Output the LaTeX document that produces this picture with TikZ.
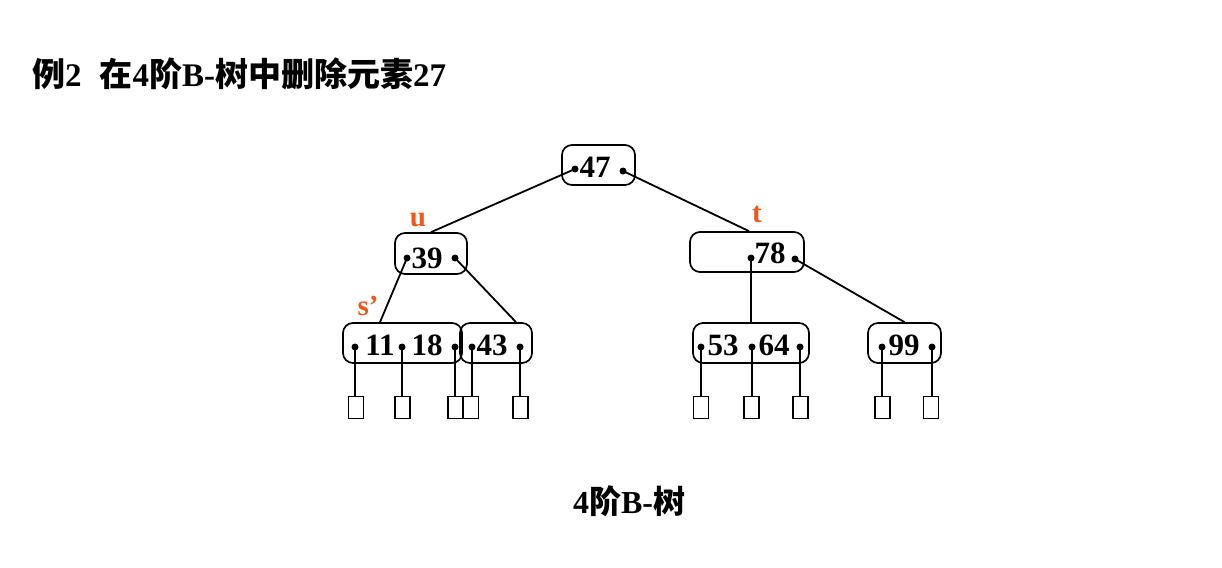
\documentclass[tikz,border=0pt]{standalone}
\usepackage{fontspec}
\setmainfont{Liberation Serif}
\newfontfamily\cjk{Noto Sans CJK SC}
\definecolor{lblorange}{RGB}{238,88,28}
\begin{document}
\begin{tikzpicture}[x=1pt,y=-1pt,
  bbox/.style={draw=black, line width=1.7pt, rounded corners=10pt},
  num/.style={inner sep=0pt, anchor=base, font=\fontsize{31}{36}\selectfont\bfseries},
  ptr/.style={circle, fill=black, inner sep=0pt, minimum size=7pt},
  leafbox/.style={draw=black, line width=1.6pt, minimum width=15pt, minimum height=22pt, inner sep=0pt},
  lbl/.style={inner sep=0pt, text=lblorange, font=\fontsize{29}{34}\selectfont\bfseries},
  edge/.style={line width=1.8pt}]
\useasboundingbox[fill=white] (0,0) rectangle (1222,567);

% title
\node[anchor=base west, inner sep=0pt, font=\fontsize{33}{38}\selectfont\bfseries] (title) at (32,87)
  {{\cjk 例}2\hspace{18pt}{\cjk 在}4{\cjk 阶}B-{\cjk 树中删除元素}27};

% boxes
\node[bbox, minimum width=73pt, minimum height=40pt] (b47) at (598.5,165) {};
\node[bbox, minimum width=72pt, minimum height=41pt] (b39) at (431,253.5) {};
\node[bbox, minimum width=114pt, minimum height=40pt] (b78) at (747,252) {};
\node[bbox, minimum width=119pt, minimum height=40pt] (b1118) at (402.5,343) {};
\node[bbox, minimum width=72pt, minimum height=40pt] (b43) at (496,343) {};
\node[bbox, minimum width=116pt, minimum height=40pt] (b5364) at (751,343) {};
\node[bbox, minimum width=73pt, minimum height=40pt] (b99) at (904.5,343) {};

% numbers
\node[num] (t47) at (595,177) {47};
\node[num] (t39) at (427,268) {39};
\node[num] (t78) at (770,263) {78};
\node[num] (t11) at (380,355) {11};
\node[num] (t18) at (427,355) {18};
\node[num] (t43) at (492,355) {43};
\node[num] (t53) at (723,355) {53};
\node[num] (t64) at (774,355) {64};
\node[num] (t99) at (904,355) {99};

% pointer dots
\node[ptr] (p47a) at (575,169) {};
\node[ptr] (p47b) at (623,171) {};
\node[ptr] (p39a) at (407,258) {};
\node[ptr] (p39b) at (455,258) {};
\node[ptr] (p78a) at (751,258) {};
\node[ptr] (p78b) at (795,259) {};
\node[ptr] (p11a) at (355,347) {};
\node[ptr] (p11b) at (402,347) {};
\node[ptr] (p11c) at (455,347) {};
\node[ptr] (p43a) at (472,347) {};
\node[ptr] (p43b) at (520,347) {};
\node[ptr] (p53a) at (701,347) {};
\node[ptr] (p53b) at (752,347) {};
\node[ptr] (p53c) at (800,347) {};
\node[ptr] (p99a) at (882,347) {};
\node[ptr] (p99b) at (932,347) {};

% leaves
\node[leafbox] (l1) at (356,407.5) {};
\node[leafbox] (l2) at (402.5,407.5) {};
\node[leafbox] (l3) at (455.5,407.5) {};
\node[leafbox] (l4) at (471,407.5) {};
\node[leafbox] (l5) at (520.5,407.5) {};
\node[leafbox] (l6) at (701,407.5) {};
\node[leafbox] (l7) at (751.5,407.5) {};
\node[leafbox] (l8) at (800.5,407.5) {};
\node[leafbox] (l9) at (882.5,407.5) {};
\node[leafbox] (l10) at (931,407.5) {};

% labels
\node[lbl] (lu) at (418,220) {u};
\node[lbl] (lt) at (757,214) {t};
\node[lbl] (ls) at (368,306) {s’};

% connectors
\draw[edge] (p47a.center) -- (b39.north);
\draw[edge] (p47b.center) -- ([xshift=2pt]b78.north);
\draw[edge] (p39a.center) -- ([xshift=-22.5pt]b1118.north);
\draw[edge] (p39b.center) -- ([xshift=20pt]b43.north);
\draw[edge] (p78a.center) -- (b5364.north -| p78a);
\draw[edge] (p78b.center) -- (b99.north);
\foreach \p/\l in {p11a/l1,p11b/l2,p11c/l3,p43a/l4,p43b/l5,p53a/l6,p53b/l7,p53c/l8,p99a/l9,p99b/l10}
  \draw[edge] (\p.center) -- (\l.north -| \p);

% caption
\node[anchor=base, inner sep=0pt, font=\fontsize{32}{38}\selectfont\bfseries] (cap) at (629,513)
  {4{\cjk 阶}B-{\cjk 树}};
\end{tikzpicture}
\end{document}
